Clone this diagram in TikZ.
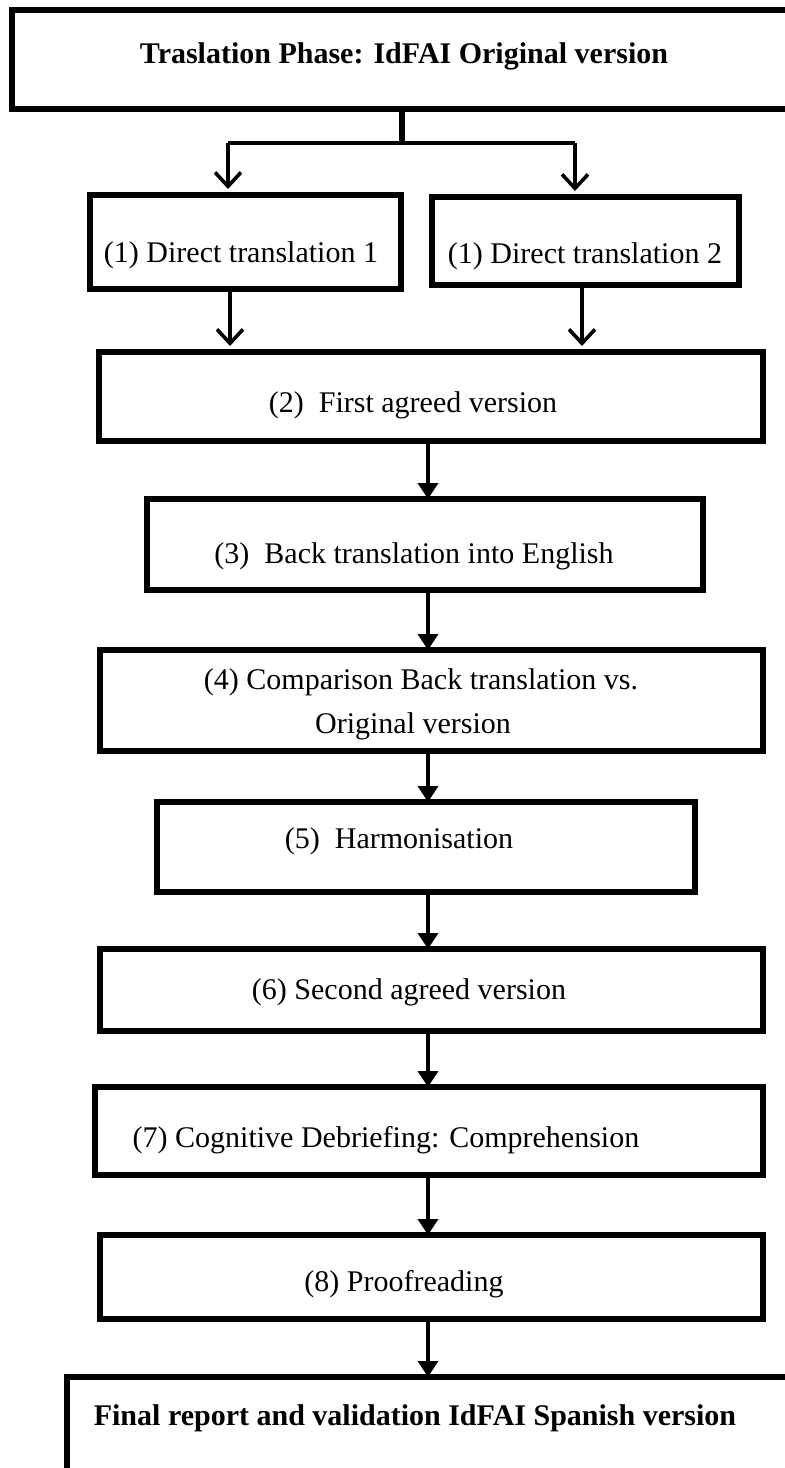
\documentclass[tikz,border=0pt]{standalone}
\usepackage{fontspec}
\setmainfont{Liberation Serif}
\usetikzlibrary{arrows.meta}

\begin{document}
\begin{tikzpicture}[x=0.5pt,y=-0.5pt,
        phase/.style={draw,line width=2.6pt,inner sep=0pt,outer sep=0pt,anchor=north west},
        txt/.style={anchor=base,inner sep=0pt,font=\fontsize{15}{18}\selectfont},
        flow/.style={line width=1.8pt,-{Triangle[width=10pt,length=8pt]}},
        branch/.style={line width=1.8pt,shorten >=3pt,-{Straight Barb[width=13pt,length=7pt,line width=1.8pt]}}]
                    \useasboundingbox (0,0) rectangle (784,1468);

                    \node (top) at (12,10) [phase, minimum width=394pt, minimum height=49.5pt] {};

                    \node (dt1) at (90,195) [phase, minimum width=155.5pt, minimum height=47pt] {};
                    \node (dt2) at (432,197) [phase, minimum width=153.5pt, minimum height=44pt] {};

                    \node (agree1) at (99,352) [phase, minimum width=332pt, minimum height=44.5pt] {};
                    \node (back) at (147,499) [phase, minimum width=278pt, minimum height=45.5pt] {};
                    \node (compare) at (100,650) [phase, minimum width=331.5pt, minimum height=50.5pt] {};
                    \node (harmon) at (157,802) [phase, minimum width=269pt, minimum height=45pt] {};
                    \node (agree2) at (100,949) [phase, minimum width=331.5pt, minimum height=41pt] {};
                    \node (debrief) at (95,1087) [phase, minimum width=334pt, minimum height=44pt] {};
                    \node (proof) at (100,1235) [phase, minimum width=331.5pt, minimum height=42pt] {};
                    \node (final) at (67,1377) [phase, minimum width=370pt, minimum height=70pt] {};

                    \node (fork) [coordinate] at (402,143) {};
                    \node (forkL) [coordinate] at (228,143) {};
                    \node (forkR) [coordinate] at (575,143) {};
                    \node (colL) [coordinate] at (230,0) {};
                    \node (colR) [coordinate] at (582,0) {};
                    \node (colM) [coordinate] at (428,0) {};

                    \draw [line width=3pt] (top.south -| fork) -- (fork);
                    \draw [line width=2pt] (forkL) -- (forkR);
                    \path [branch]
                        (forkL) edge (forkL |- dt1.north)
                        (forkR) edge (forkR |- dt2.north)
                        (dt1.south -| colL) edge (agree1.north -| colL)
                        (dt2.south -| colR) edge (agree1.north -| colR)
                    ;
                    \path [flow]
                        (agree1.south -| colM) edge (back.north -| colM)
                        (back.south -| colM) edge (compare.north -| colM)
                        (compare.south -| colM) edge (harmon.north -| colM)
                        (harmon.south -| colM) edge (agree2.north -| colM)
                        (agree2.south -| colM) edge (debrief.north -| colM)
                        (debrief.south -| colM) edge (proof.north -| colM)
                        (proof.south -| colM) edge (final.north -| colM)
                    ;

                    \node (toptext) [txt] at (404,63) {\bfseries Traslation Phase: IdFAI Original version};

                    \node (dt1text) [txt] at (241,262) {(1) Direct translation 1};
                    \node (dt2text) [txt] at (585,263) {(1) Direct translation 2};

                    \node (agree1text) [txt] at (413,412) {(2)\ \ First agreed version};
                    \node (backtext) [txt] at (414,563) {(3)\ \ Back translation into English};
                    \node (comparetext) [txt] at (421,689) {(4) Comparison Back translation vs.};
                    \node (comparetext2) [txt] at (413,733) {Original version};
                    \node (harmontext) [txt] at (399,848) {(5)\ \ Harmonisation};
                    \node (agree2text) [txt] at (409,999) {(6) Second agreed version};
                    \node (debrieftext) [txt] at (386,1147) {(7) Cognitive Debriefing: Comprehension};
                    \node (prooftext) [txt] at (404,1291) {(8) Proofreading};

                    \node (finaltext) [txt] at (415,1425) {\bfseries Final report and validation IdFAI Spanish version};
                \end{tikzpicture}
\end{document}
